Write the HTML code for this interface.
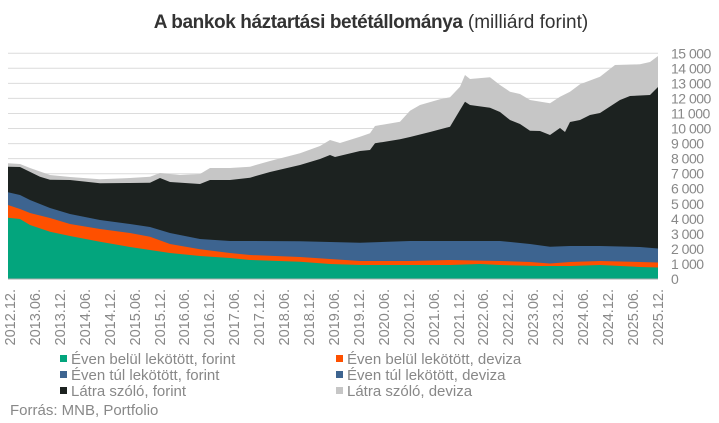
<!DOCTYPE html>
<html><head><meta charset="utf-8"><style>
body{margin:0;background:#fff;}
svg{display:block;font-family:"Liberation Sans",sans-serif;}
</style></head><body>
<svg width="719" height="423" viewBox="0 0 719 423" xmlns="http://www.w3.org/2000/svg">
<text x="371" y="28" text-anchor="middle" font-size="19" fill="#333"><tspan font-weight="bold" letter-spacing="-0.4">A bankok háztartási betétállománya</tspan><tspan> (milliárd forint)</tspan></text>
<g stroke="#dcdcdc" stroke-width="1">
<line x1="8" x2="658" y1="53.3" y2="53.3"/><line x1="8" x2="658" y1="68.3" y2="68.3"/><line x1="8" x2="658" y1="83.4" y2="83.4"/><line x1="8" x2="658" y1="98.4" y2="98.4"/><line x1="8" x2="658" y1="113.5" y2="113.5"/><line x1="8" x2="658" y1="128.5" y2="128.5"/><line x1="8" x2="658" y1="143.6" y2="143.6"/><line x1="8" x2="658" y1="158.6" y2="158.6"/><line x1="8" x2="658" y1="173.7" y2="173.7"/><line x1="8" x2="658" y1="188.7" y2="188.7"/><line x1="8" x2="658" y1="203.8" y2="203.8"/><line x1="8" x2="658" y1="218.8" y2="218.8"/><line x1="8" x2="658" y1="233.9" y2="233.9"/><line x1="8" x2="658" y1="248.9" y2="248.9"/><line x1="8" x2="658" y1="264" y2="264"/>
</g>
<polygon fill="#c6c6c6" points="8,279 8,163.3 20,164 30,168 50,175 70,177 100,179.3 130,178 150,176.7 160,173 180,175 200,174 210,168 230,168 250,166.7 270,161 300,153.3 320,146 330,140 340,143 360,136.7 370,133.3 375,126 400,121.7 410,110.7 420,105 440,99.3 450,97.3 460,86.7 465,75 470,79 490,77.3 500,85 510,91.7 520,94 530,100 550,103.3 560,96.7 570,91.7 580,84.3 600,76.7 615,65 640,64.3 650,62 658,56 658,279"/>
<polygon fill="#1c2220" points="8,279 8,166.7 20,167 40,176.7 50,179.7 70,180 100,183.3 130,183 150,182.7 160,178 170,182 200,184 210,180 230,180 250,177.7 270,172 300,165 320,159 330,155 335,157 360,151 370,150 375,143.3 400,139.3 410,137 430,132 450,126.7 460,110 465,101.7 470,105 490,107.7 500,112 510,120 520,124 530,130.7 540,131 550,135 560,128 565,132 570,122 580,120 590,115 600,113 620,100 630,96 650,95 655,90 658,87 658,279"/>
<polygon fill="#3d6490" points="8,279 8,192.3 20,195 30,200 50,208 70,214 100,220 130,224 150,227 170,233 200,239 230,241 250,241 300,241.3 360,242.7 410,241 450,241 500,241 530,244 550,246.7 570,246 600,246 640,247 658,248.5 658,279"/>
<polygon fill="#fe5000" points="8,279 8,205 20,209 30,213 50,218 70,224 100,229 130,233 150,236.7 170,244 200,249.3 230,253 250,255 300,257 360,261 410,261 450,260 500,261 530,262 550,263.5 570,262 600,261 640,262 658,262.5 658,279"/>
<polygon fill="#03a57d" points="8,279 8,217.7 20,219 30,225 50,231.7 70,236 100,241.7 130,247 150,250 170,253 200,256 230,258 250,260 300,261.7 330,264 360,265 400,265 450,265 480,264 500,265 540,266 570,266 600,265 640,267 658,267.5 658,279"/>
<line x1="8" x2="658" y1="279" y2="279" stroke="#aaa" stroke-width="1"/>
<g font-size="14" fill="#888" letter-spacing="-0.5">
<text x="671" y="58.3">15 000</text><text x="671" y="73.3">14 000</text><text x="671" y="88.4">13 000</text><text x="671" y="103.4">12 000</text><text x="671" y="118.5">11 000</text><text x="671" y="133.5">10 000</text><text x="671" y="148.6">9 000</text><text x="671" y="163.6">8 000</text><text x="671" y="178.7">7 000</text><text x="671" y="193.7">6 000</text><text x="671" y="208.8">5 000</text><text x="671" y="223.8">4 000</text><text x="671" y="238.9">3 000</text><text x="671" y="253.9">2 000</text><text x="671" y="269">1 000</text><text x="671" y="284">0</text>
</g>
<g font-size="14.5" fill="#888" text-anchor="end">
<text transform="translate(15,289) rotate(-90)">2012.12.</text>
<text transform="translate(40,289) rotate(-90)">2013.06.</text>
<text transform="translate(65,289) rotate(-90)">2013.12.</text>
<text transform="translate(90,289) rotate(-90)">2014.06.</text>
<text transform="translate(115,289) rotate(-90)">2014.12.</text>
<text transform="translate(140,289) rotate(-90)">2015.06.</text>
<text transform="translate(165,289) rotate(-90)">2015.12.</text>
<text transform="translate(189,289) rotate(-90)">2016.06.</text>
<text transform="translate(214,289) rotate(-90)">2016.12.</text>
<text transform="translate(239,289) rotate(-90)">2017.06.</text>
<text transform="translate(264,289) rotate(-90)">2017.12.</text>
<text transform="translate(289,289) rotate(-90)">2018.06.</text>
<text transform="translate(314,289) rotate(-90)">2018.12.</text>
<text transform="translate(339,289) rotate(-90)">2019.06.</text>
<text transform="translate(364,289) rotate(-90)">2019.12.</text>
<text transform="translate(389,289) rotate(-90)">2020.06.</text>
<text transform="translate(414,289) rotate(-90)">2020.12.</text>
<text transform="translate(439,289) rotate(-90)">2021.06.</text>
<text transform="translate(464,289) rotate(-90)">2021.12.</text>
<text transform="translate(488,289) rotate(-90)">2022.06.</text>
<text transform="translate(513,289) rotate(-90)">2022.12.</text>
<text transform="translate(538,289) rotate(-90)">2023.06.</text>
<text transform="translate(563,289) rotate(-90)">2023.12.</text>
<text transform="translate(588,289) rotate(-90)">2024.06.</text>
<text transform="translate(613,289) rotate(-90)">2024.12.</text>
<text transform="translate(638,289) rotate(-90)">2025.06.</text>
<text transform="translate(663,289) rotate(-90)">2025.12.</text>
</g>
<g font-size="15" fill="#888">
<rect x="60" y="355" width="7" height="7" fill="#03a57d"/><text x="71" y="364">Éven belül lekötött, forint</text>
<rect x="60" y="371" width="7" height="7" fill="#3d6490"/><text x="71" y="380">Éven túl lekötött, forint</text>
<rect x="60" y="387" width="7" height="7" fill="#1c2220"/><text x="71" y="396">Látra szóló, forint</text>
<rect x="336" y="355" width="7" height="7" fill="#fe5000"/><text x="347" y="364">Éven belül lekötött, deviza</text>
<rect x="336" y="371" width="7" height="7" fill="#3d6490"/><text x="347" y="380">Éven túl lekötött, deviza</text>
<rect x="336" y="387" width="7" height="7" fill="#c6c6c6"/><text x="347" y="396">Látra szóló, deviza</text>
<text x="10" y="415">Forrás: MNB, Portfolio</text>
</g>
</svg>
</body></html>
